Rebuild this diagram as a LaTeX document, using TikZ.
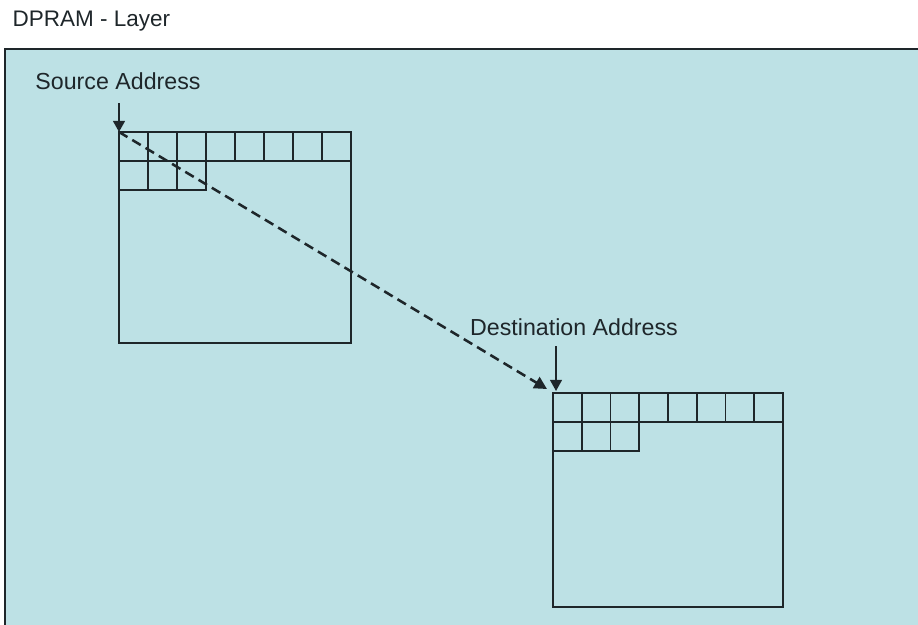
\documentclass[tikz,border=0pt]{standalone}
\usepackage{fontspec}
\setmainfont{Liberation Sans}
\usepackage{xcolor}
\usepackage{tikz}
\usetikzlibrary{arrows.meta,positioning}
\definecolor{layerblue}{RGB}{189,225,229}
\definecolor{inkdark}{RGB}{30,38,42}

\begin{document}
\begin{tikzpicture}[x=0.025cm, y=-0.025cm,
    lbl/.style={font=\fontsize{16.5}{19}\selectfont, text=inkdark, inner sep=1pt},
    cellline/.style={draw=inkdark, line width=1.4pt},
    ptr/.style={-{Triangle[length=8pt, width=8.5pt]}, draw=inkdark, line width=1.3pt},
    copyline/.style={-{Triangle[length=9pt, width=9pt]}, draw=inkdark, line width=1.8pt, dash pattern=on 7pt off 4pt}]
				\useasboundingbox (0,0) rectangle (918,624);
				\clip (0,0) rectangle (918,624);
				% layer frame
				\draw[fill=layerblue, draw=inkdark, line width=1.8pt] (5,49) rectangle (940,650);
				\node[lbl, font=\fontsize{16}{19}\selectfont, anchor=west] (title) at (11,21) {DPRAM - Layer};
				
				% source block
				\begin{scope}[shift={(119,132)}]
					\draw[cellline] (0,0) rectangle (232,211);
					\foreach \i in {0,...,7} \draw[cellline] (\i*29,0) rectangle ++(29,29);
					\foreach \i in {0,1,2} \draw[cellline] (\i*29,29) rectangle ++(29,29);
				\end{scope}
				% destination block
				\begin{scope}[shift={(553,393)}]
					\draw[cellline] (0,0) rectangle (230,214);
					\foreach \i in {0,...,7} \draw[cellline] (\i*28.75,0) rectangle ++(28.75,29);
					\foreach \i in {0,1,2} \draw[cellline] (\i*28.75,29) rectangle ++(28.75,29);
				\end{scope}
				
				\coordinate (srcaddr) at (119,132);
				\coordinate (dstaddr) at (556,391);
				\coordinate (copyend) at (547,389);
				\node[lbl] (srclbl) at (118,81) {Source Address};
				\node[lbl] (dstlbl) at (574,327) {Destination Address};
				\coordinate (srcptr) at (119,103);
				\coordinate (dstptr) at (556,346);
				
				\draw[ptr] (srcptr) -- (srcaddr);
				\draw[ptr] (dstptr) -- (dstaddr);
				\draw[copyline] (srcaddr) -- (copyend);
			\end{tikzpicture}
\end{document}
